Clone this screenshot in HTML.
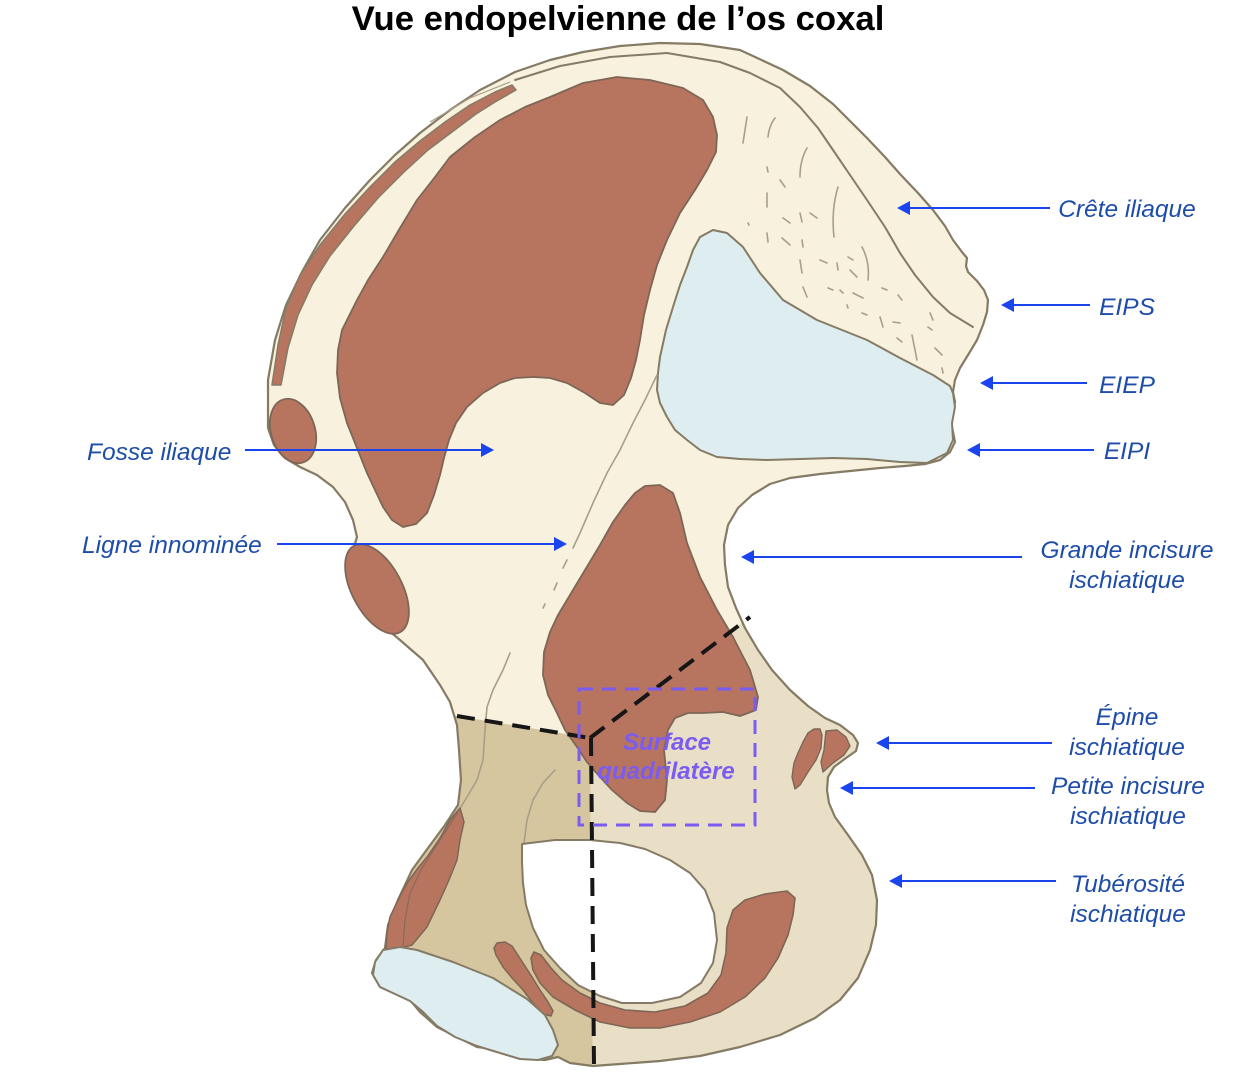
<!DOCTYPE html>
<html><head><meta charset="utf-8"><style>
html,body{margin:0;padding:0;background:#fff}
svg{display:block}
</style></head><body>
<svg width="1242" height="1080" viewBox="0 0 1242 1080" xmlns="http://www.w3.org/2000/svg">
<defs>
<clipPath id="bone">
<path id="bonep" d="M268,410 L268,380 275,340 286,305 303,270 320,240 345,208 370,180 395,155 420,133 450,110 480,90 515,72 550,60 583,52 620,46 660,43 700,44 740,50 783,70 810,86 833,104 850,121 867,138 885,157 900,174 918,193 933,210 945,226 953,240 962,252 967,258 966,266 968,272 977,281 984,290 988,300 987,312 983,325 977,340 968,355 960,368 955,380 953,392 955,402 953,412 951,423 953,432 955,442 950,452 940,460 925,464 905,466 880,468 850,471 820,474 790,478 770,484 752,495 738,508 728,525 724,545 725,565 728,587 736,608 745,628 758,650 772,670 790,690 808,706 825,718 840,725 853,735 858,743 856,751 846,758 834,767 828,777 827,790 829,803 835,817 848,835 862,855 872,875 877,900 876,925 870,950 858,978 840,1000 815,1018 780,1035 740,1047 700,1056 660,1061 620,1064 593,1066 570,1063 558,1057 545,1060 520,1058 503,1050 477,1047 453,1035 437,1027 420,1012 410,1000 395,993 380,987 372,973 376,960 385,948 388,925 398,900 412,870 428,848 445,825 458,805 461,780 459,750 457,725 450,702 440,685 423,660 400,640 388,630 372,620 357,604 349,585 349,565 353,550 357,537 353,520 345,502 333,487 317,475 300,467 285,458 274,445 268,428 Z"/>
</clipPath>
</defs>

<!-- bone base -->
<use href="#bonep" fill="#f7f1dd"/>

<!-- tan regions -->
<g clip-path="url(#bone)">
<polygon points="340,716 457,716 590,738 593,1080 340,1080" fill="#d6c69f"/>
<polygon points="590,738 752,615 920,690 920,1080 593,1080" fill="#e9dfc6"/>
</g>

<!-- bone outline -->
<use href="#bonep" fill="none" stroke="#857b65" stroke-width="2.2" stroke-linejoin="round"/>

<!-- inner crest line -->
<polyline points="515,80 560,66 610,57 667,53 720,62 750,73 780,88 800,107 818,128 833,150 850,175 867,200 885,227 900,253 915,275 933,297 950,313 973,327" fill="none" stroke="#857b65" stroke-width="2" stroke-linejoin="round" stroke-linecap="round"/>
<polyline points="430,122 470,98 510,82" fill="none" stroke="#a89f88" stroke-width="1.2"/>

<!-- thin brown strip on upper-left edge -->
<polygon points="272,385 278,345 286,308 300,275 320,245 345,214 370,187 395,162 420,141 445,122 470,105 495,92 512,85 516,90 495,102 476,114 452,132 428,150 404,172 378,198 354,226 330,256 312,285 298,315 288,348 281,385" fill="#b77560" stroke="#857b65" stroke-width="1.5" stroke-linejoin="round"/>

<!-- big iliac muscle -->
<polygon points="617,77 650,80 683,88 703,100 713,117 717,135 716,152 707,170 695,190 680,213 667,240 657,265 650,290 644,315 640,340 636,360 631,378 624,395 613,405 600,403 585,393 567,383 550,378 533,377 515,378 500,383 483,393 467,407 456,423 449,440 444,458 440,475 434,495 427,513 416,524 403,527 392,520 383,507 375,490 367,473 357,448 347,423 340,398 337,373 338,350 342,330 350,314 357,300 368,280 383,257 400,228 417,200 435,177 450,157 475,137 500,120 525,107 550,97 583,83" fill="#b77560" stroke="#7d6655" stroke-width="1.8" stroke-linejoin="round"/>

<!-- ovals -->
<ellipse cx="293" cy="431" rx="22" ry="33" transform="rotate(-17 293 431)" fill="#b77560" stroke="#7d6655" stroke-width="1.8"/>
<ellipse cx="377" cy="589" rx="25" ry="49" transform="rotate(-28 377 589)" fill="#b77560" stroke="#7d6655" stroke-width="1.8"/>

<!-- auricular surface -->
<polygon points="713,230 727,233 743,247 760,273 783,300 817,320 867,340 900,358 933,375 950,386 953,393 955,407 952,423 953,440 947,453 927,463 900,462 867,459 833,458 800,459 767,460 740,459 717,457 700,450 687,440 675,430 667,417 660,403 657,390 658,373 660,357 666,330 673,307 680,285 687,267 693,250 700,237" fill="#deedef" stroke="#857b65" stroke-width="2" stroke-linejoin="round"/>

<!-- hatch marks -->
<g fill="none" stroke="#a89f88" stroke-width="1.6" stroke-linecap="round">
<path d="M747,117 L743,143"/>
<path d="M775,118 Q769,126 768,137"/>
<path d="M807,148 Q800,160 800,177"/>
<path d="M838,187 Q831,210 834,237"/>
<path d="M767,167 L768,172"/>
<path d="M767,193 L767,207"/>
<path d="M780,180 L785,187"/>
<path d="M783,218 L790,223"/>
<path d="M800,213 L802,222"/>
<path d="M810,213 L817,218"/>
<path d="M748,223 L749,225"/>
<path d="M767,233 L768,242"/>
<path d="M782,238 L790,245"/>
<path d="M802,240 L803,247"/>
<path d="M800,260 L802,273"/>
<path d="M820,260 L827,263"/>
<path d="M837,263 L838,270"/>
<path d="M848,257 L853,260"/>
<path d="M862,247 Q870,262 868,280"/>
<path d="M850,270 L857,277"/>
<path d="M803,287 L807,297"/>
<path d="M828,288 L833,290"/>
<path d="M840,290 L843,293"/>
<path d="M853,293 L863,298"/>
<path d="M882,288 L887,290"/>
<path d="M898,295 L902,300"/>
<path d="M847,305 L848,308"/>
<path d="M862,313 L867,315"/>
<path d="M880,317 L883,327"/>
<path d="M893,322 L900,323"/>
<path d="M930,313 L933,320"/>
<path d="M928,327 L932,330"/>
<path d="M897,338 L902,342"/>
<path d="M912,335 L917,360"/>
<path d="M935,348 L942,355"/>
<path d="M942,368 L943,373"/>
</g>

<!-- ligne innominee grey line -->
<g fill="none" stroke="#a89f88" stroke-width="1.6" stroke-linecap="round">
<polyline points="657,375 645,400 633,423 620,450 607,473 593,503 580,533 573,548"/>
<path d="M567,560 L563,568"/>
<path d="M557,583 L554,590"/>
<path d="M545,604 L543,608"/>
<polyline points="510,653 503,670 493,690 487,707 485,730 483,760 477,780 467,797 459,810"/>
<polyline points="555,770 543,783 533,800 527,820 524,843"/>
</g>

<!-- middle brown -->
<polygon points="645,486 660,485 673,493 680,513 687,543 700,577 717,610 733,637 750,670 758,697 756,710 740,716 723,712 703,713 688,713 675,718 668,730 664,750 667,780 665,800 655,812 640,811 627,803 612,790 600,777 587,762 577,747 565,730 557,713 548,695 543,675 544,652 550,632 558,615 570,595 585,570 600,545 613,522 625,505 635,493" fill="#b77560" stroke="#7d6655" stroke-width="1.8" stroke-linejoin="round"/>

<!-- spine brown bits -->
<polygon points="795,789 792,777 794,763 798,753 803,742 808,733 814,729 820,729 822,735 821,748 816,760 808,772 800,785" fill="#b77560" stroke="#7d6655" stroke-width="1.4" stroke-linejoin="round"/>
<polygon points="826,731 837,730 846,737 850,746 844,755 833,763 823,772 821,762 824,750 825,740" fill="#b77560" stroke="#7d6655" stroke-width="1.4" stroke-linejoin="round"/>

<!-- left brown strip -->
<polygon points="460,808 464,822 460,840 457,860 449,880 440,900 427,927 412,945 398,949 386,950 387,932 390,917 398,900 407,883 418,868 427,857 440,838 450,820" fill="#b77560" stroke="#7d6655" stroke-width="1.5" stroke-linejoin="round"/>
<polyline points="403,946 405,920 410,893 422,868 440,840 458,812" fill="none" stroke="#8a6a58" stroke-width="1.2"/>

<!-- crescent -->
<polygon points="787,891 795,898 793,915 788,935 778,958 765,978 745,997 720,1012 690,1022 660,1028 630,1028 600,1022 575,1010 553,997 540,983 533,970 531,958 534,952 541,955 551,968 562,980 580,993 600,1003 625,1010 655,1012 685,1006 708,993 721,975 726,953 727,928 733,910 745,900 765,894" fill="#b77560" stroke="#7d6655" stroke-width="1.6" stroke-linejoin="round"/>

<!-- small strip left of crescent -->
<polygon points="497,943 505,942 512,946 523,963 532,977 540,990 548,1002 553,1011 551,1016 543,1014 533,1003 523,990 512,978 503,967 496,955 494,948" fill="#b77560" stroke="#7d6655" stroke-width="1.5" stroke-linejoin="round"/>

<!-- obturator foramen -->
<polygon points="522,844 555,840 590,840 620,843 645,849 670,860 690,873 705,890 714,913 717,940 713,963 701,983 680,997 652,1003 622,1003 600,996 578,985 560,968 544,950 533,928 526,905 523,883 522,862" fill="#ffffff" stroke="#857b65" stroke-width="2" stroke-linejoin="round"/>

<!-- bottom-left cartilage -->
<polygon points="383,950 400,947 417,950 453,962 493,978 527,999 545,1015 553,1030 558,1045 552,1056 538,1060 520,1059 500,1053 477,1046 455,1037 437,1026 422,1011 410,1001 395,994 380,987 373,975 375,962" fill="#deedef" stroke="#857b65" stroke-width="2" stroke-linejoin="round"/>

<!-- dashed lines -->
<g fill="none" stroke="#161616" stroke-width="4" stroke-dasharray="18 10">
<path d="M457,716 L590,738"/>
<path d="M590,738 L750,617"/>
<path d="M591,738 L594,1066"/>
</g>

<!-- purple dashed rect -->
<rect x="579" y="689" width="176" height="136" fill="none" stroke="#7b5cf2" stroke-width="3" stroke-dasharray="14 9"/>
<g font-family="'Liberation Sans', Arial, sans-serif" font-weight="bold" font-style="italic" font-size="24" fill="#7b5cf2" text-anchor="middle">
<text x="667" y="750">Surface</text>
<text x="666" y="779">quadrilatère</text>
</g>

<!-- title -->
<text x="618" y="30" font-family="'Liberation Sans', Arial, sans-serif" font-weight="bold" font-size="34.7" fill="#000" text-anchor="middle">Vue endopelvienne de l’os coxal</text>

<!-- arrows -->
<g stroke="#1a44ee" stroke-width="2" fill="none">
<path d="M245,450 L482,450"/>
<path d="M277,544 L555,544"/>
<path d="M1050,208 L909,208"/>
<path d="M1090,305 L1013,305"/>
<path d="M1087,383 L992,383"/>
<path d="M1094,450 L979,450"/>
<path d="M1022,557 L753,557"/>
<path d="M1052,743 L888,743"/>
<path d="M1035,788 L852,788"/>
<path d="M1056,881 L901,881"/>
</g>
<g fill="#1a44ee">
<polygon points="494,450 481,443 481,457"/>
<polygon points="567,544 554,537 554,551"/>
<polygon points="897,208 910,201 910,215"/>
<polygon points="1001,305 1014,298 1014,312"/>
<polygon points="980,383 993,376 993,390"/>
<polygon points="967,450 980,443 980,457"/>
<polygon points="741,557 754,550 754,564"/>
<polygon points="876,743 889,736 889,750"/>
<polygon points="840,788 853,781 853,795"/>
<polygon points="889,881 902,874 902,888"/>
</g>

<!-- labels -->
<g font-family="'Liberation Sans', Arial, sans-serif" font-style="italic" font-size="24.5" fill="#1d4ca9">
<text x="87" y="460">Fosse iliaque</text>
<text x="82" y="553">Ligne innominée</text>
<g text-anchor="middle">
<text x="1127" y="217">Crête iliaque</text>
<text x="1127" y="315">EIPS</text>
<text x="1127" y="393">EIEP</text>
<text x="1127" y="459">EIPI</text>
<text x="1127" y="558">Grande incisure</text>
<text x="1127" y="588">ischiatique</text>
<text x="1127" y="725">Épine</text>
<text x="1127" y="755">ischiatique</text>
<text x="1128" y="794">Petite incisure</text>
<text x="1128" y="824">ischiatique</text>
<text x="1128" y="892">Tubérosité</text>
<text x="1128" y="922">ischiatique</text>
</g>
</g>
</svg>
</body></html>
